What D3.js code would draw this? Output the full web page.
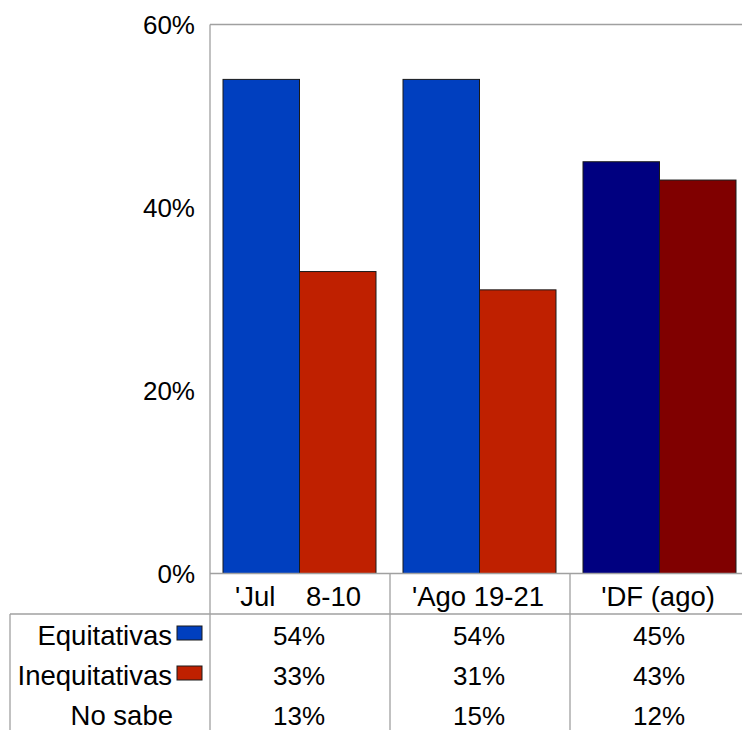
<!DOCTYPE html>
<html><head><meta charset="utf-8">
<script src="https://cdn.jsdelivr.net/npm/d3@7"></script>
<style>html,body{margin:0;padding:0;background:#fff;} svg{display:block;font-family:"Liberation Sans",Arial,sans-serif;}</style>
</head><body>
<svg id="c" width="742" height="730"></svg>
<script>
const categories = ["'Jul    8-10", "'Ago 19-21", "'DF (ago)"];
const seriesNames = ["Equitativas", "Inequitativas", "No sabe"];
const equitativas = [54, 54, 45];
const inequitativas = [33, 31, 43];
const noSabe = [13, 15, 12];
const yTicks = [0, 20, 40, 60];
const barColors = [["#003fbf", "#bf2000"], ["#003fbf", "#bf2000"], ["#000080", "#800000"]];
const legendColors = ["#003fbf", "#bf2000", null];

const svg = d3.select("#c");
const x = d3.scaleBand().domain(categories).range([210, 750]);
const xi = d3.scaleBand().domain([0, 1]).range([13, 166]);
const y = d3.scaleLinear().domain([0, 60]).range([573.5, 24.5]);
const grid = "#a0a0a0";

// bars
const barSeries = [equitativas, inequitativas];
categories.forEach((c, ci) => {
  barSeries.forEach((s, si) => {
    svg.append("rect")
      .attr("x", x(c) + xi(si))
      .attr("y", y(s[ci]))
      .attr("width", xi.bandwidth())
      .attr("height", y(0) - y(s[ci]))
      .attr("fill", barColors[ci][si])
      .attr("stroke", "#1a1a1a").attr("stroke-width", 1);
  });
});

// frame lines
const line = (x1, y1, x2, y2) => svg.append("line").attr("x1", x1).attr("y1", y1).attr("x2", x2).attr("y2", y2)
  .attr("stroke", grid).attr("stroke-width", 1.3);
line(210, y(60), 742, y(60));
line(210, y(60), 210, 730);
line(210, y(0), 742, y(0));
line(10, 614, 742, 614);
line(10, 614, 10, 730);
categories.forEach(c => { if (x(c) > 210) line(x(c), y(0), x(c), 730); });

// y axis labels
svg.append("g").selectAll("text").data(yTicks).join("text")
  .attr("x", 195).attr("y", d => y(d) + 9.5)
  .attr("text-anchor", "end").attr("font-size", 26).attr("fill", "#000")
  .text(d => d + "%");

// category labels
svg.append("g").selectAll("text").data(categories).join("text")
  .attr("x", d => x(d) + x.bandwidth() / 2 - 2).attr("y", 606)
  .attr("text-anchor", "middle").attr("font-size", 27.5).attr("fill", "#000")
  .style("white-space", "pre")
  .text(d => d);

// data table
const tableRows = [equitativas, inequitativas, noSabe];
tableRows.forEach((row, ri) => {
  const base = 645 + ri * 40;
  const hasSwatch = legendColors[ri] !== null;
  svg.append("text").attr("x", hasSwatch ? 172 : 173).attr("y", base)
    .attr("text-anchor", "end").attr("font-size", 27.5).attr("fill", "#000")
    .text(seriesNames[ri]);
  if (hasSwatch) {
    svg.append("rect").attr("x", 177).attr("y", base - 19).attr("width", 25).attr("height", 14)
      .attr("fill", legendColors[ri]).attr("stroke", "#1a1a1a").attr("stroke-width", 1);
  }
  categories.forEach((c, ci) => {
    svg.append("text").attr("x", x(c) + x.bandwidth() / 2 - 1).attr("y", base)
      .attr("text-anchor", "middle").attr("font-size", 26).attr("fill", "#000")
      .text(row[ci] + "%");
  });
});
</script>
</body></html>
